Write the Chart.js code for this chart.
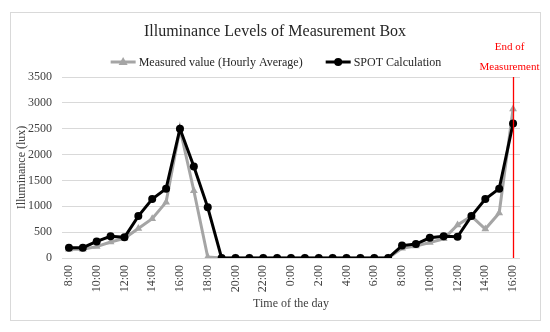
<!DOCTYPE html>
<html>
<head>
<meta charset="utf-8">
<script src="https://cdn.jsdelivr.net/npm/chart.js@4.4.1/dist/chart.umd.min.js"></script>
<style>
  html, body { margin: 0; padding: 0; background: #fff; }
  #wrap { width: 550px; height: 332px; }
</style>
</head>
<body>
<div id="wrap"><canvas id="illumChart" width="550" height="332"></canvas></div>
<script>
const hours = ['8:00', '9:00', '10:00', '11:00', '12:00', '13:00', '14:00', '15:00', '16:00', '17:00',
    '18:00', '19:00', '20:00', '21:00', '22:00', '23:00', '0:00', '1:00', '2:00', '3:00', '4:00',
    '5:00', '6:00', '7:00', '8:00', '9:00', '10:00', '11:00', '12:00', '13:00', '14:00', '15:00', '16:00'];
const measuredValues = [170, 170, 220, 310, 380, 570, 760, 1080, 2500, 1300, 20,
    0, 0, 0, 0, 0, 0, 0, 0, 0, 0, 0, 0, 0,
    190, 230, 300, 370, 640, 810, 560, 870, 2880];
const spotValues = [200, 200, 320, 420, 400, 810, 1140, 1340, 2500, 1770, 980,
    0, 0, 0, 0, 0, 0, 0, 0, 0, 0, 0, 0, 0,
    240, 270, 390, 420, 410, 810, 1140, 1340, 2600];
const yTicks = [0, 500, 1000, 1500, 2000, 2500, 3000, 3500];
const endIndex = hours.length - 1;

const SERIF = "'Liberation Serif', 'DejaVu Serif', serif";
const GRAY = '#a5a5a5';

const canvas = document.getElementById('illumChart');
const ctx = canvas.getContext('2d');

new Chart(ctx, {
    type: 'line',
    data: {
        labels: hours,
        datasets: [{
            label: 'Measured value (Hourly Average)',
            data: measuredValues,
            borderColor: GRAY,
            backgroundColor: GRAY,
            borderWidth: 3,
            pointStyle: 'triangle',
            pointRadius: 4.5,
            pointBorderWidth: 0,
            tension: 0,
            order: 1
        }, {
            label: 'SPOT Calculation',
            data: spotValues,
            borderColor: '#000',
            backgroundColor: '#000',
            borderWidth: 3,
            pointStyle: 'circle',
            pointRadius: 4,
            pointBorderWidth: 0,
            tension: 0,
            order: 0
        }]
    },
    options: {
        responsive: false,
        animation: false,
        layout: { padding: { top: 77, right: 30, bottom: 12, left: 10 } },
        scales: {
            x: {
                offset: true,
                grid: { display: false, drawTicks: false },
                border: { display: false },
                ticks: {
                    autoSkip: false,
                    minRotation: 90,
                    maxRotation: 90,
                    padding: 7,
                    color: '#404040',
                    font: { family: SERIF, size: 12 },
                    callback: function (value, index) {
                        return index % 2 === 0 ? hours[index] : '';
                    }
                },
                title: {
                    display: true,
                    text: 'Time of the day',
                    color: '#404040',
                    font: { family: SERIF, size: 12 },
                    padding: { top: 0, bottom: 9 }
                },
                afterFit: function (scale) { scale.height = 62; }
            },
            y: {
                min: 0,
                max: 3500,
                afterBuildTicks: function (scale) {
                    scale.ticks = yTicks.map(v => ({ value: v }));
                },
                grid: { color: '#d9d9d9', drawTicks: false },
                border: { display: false },
                ticks: {
                    padding: 10,
                    color: '#404040',
                    font: { family: SERIF, size: 12 },
                    callback: function (value) { return String(value); }
                },
                title: {
                    display: true,
                    text: 'Illuminance (lux)',
                    color: '#404040',
                    font: { family: SERIF, size: 12 },
                    padding: { top: 5, bottom: 0 }
                },
                afterFit: function (scale) { scale.width = 52; }
            }
        },
        plugins: {
            legend: { display: false },
            title: { display: false },
            tooltip: { enabled: false }
        }
    },
    plugins: [{
        id: 'frame',
        beforeDraw: (chart) => {
            const c = chart.ctx;
            c.save();
            c.fillStyle = '#fff';
            c.fillRect(0, 0, chart.width, chart.height);
            c.strokeStyle = '#d9d9d9';
            c.lineWidth = 1;
            c.strokeRect(10.5, 12.5, 530, 308);
            c.restore();
        }
    }, {
        id: 'extras',
        afterDraw: (chart) => {
            const c = chart.ctx;
            const area = chart.chartArea;
            const xs = chart.scales.x;

            // title
            c.save();
            c.fillStyle = '#262626';
            c.font = '16px ' + SERIF;
            c.textAlign = 'center';
            c.textBaseline = 'middle';
            c.fillText('Illuminance Levels of Measurement Box', 275, 32);
            c.restore();

            // legend
            c.save();
            c.font = '12px ' + SERIF;
            c.textBaseline = 'middle';
            const ly = 62;
            const sample = 25;
            const items = chart.data.datasets.map(ds => ({
                ds: ds,
                w: sample + 3 + c.measureText(ds.label).width
            }));
            const gap = 23;
            const total = items.reduce((s, it) => s + it.w, 0) + gap * (items.length - 1);
            let lx = 276 - total / 2;
            items.forEach(it => {
                const ds = it.ds;
                c.strokeStyle = ds.borderColor;
                c.fillStyle = ds.backgroundColor;
                c.lineWidth = 3;
                c.beginPath();
                c.moveTo(lx, ly);
                c.lineTo(lx + sample, ly);
                c.stroke();
                const mx = lx + sample / 2;
                c.beginPath();
                if (ds.pointStyle === 'triangle') {
                    c.moveTo(mx, ly - 5);
                    c.lineTo(mx + 4.5, ly + 3);
                    c.lineTo(mx - 4.5, ly + 3);
                    c.closePath();
                } else {
                    c.arc(mx, ly, 4, 0, Math.PI * 2);
                }
                c.fill();
                c.fillStyle = '#262626';
                c.textAlign = 'left';
                c.fillText(ds.label, lx + sample + 3, ly + 1);
                lx += it.w + gap;
            });
            c.restore();

            // end of measurement marker
            const ex = Math.round(xs.getPixelForValue(endIndex)) + 0.5;
            c.save();
            c.strokeStyle = '#ff0000';
            c.lineWidth = 1.3;
            c.beginPath();
            c.moveTo(ex, area.top);
            c.lineTo(ex, area.bottom);
            c.stroke();
            c.fillStyle = '#ff0000';
            c.font = '11px ' + SERIF;
            c.textAlign = 'center';
            c.textBaseline = 'middle';
            c.fillText('End of', ex - 4, 47);
            c.fillText('Measurement', ex - 4, 67);
            c.restore();
        }
    }]
});
</script>
</body>
</html>
